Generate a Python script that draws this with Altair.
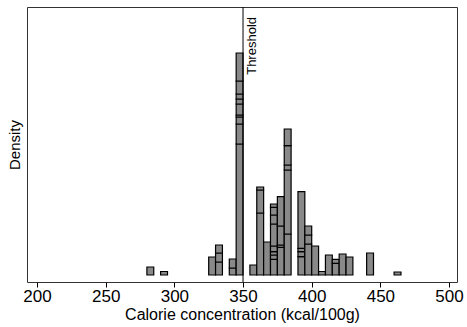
import altair as alt
import pandas as pd

# Histogram bins (kcal/100g), bin width 5; each bin is a stack of segments
BIN_WIDTH = 5
bin_starts = [280, 290, 325, 330, 340, 345, 355, 360, 365, 370, 375,
              380, 390, 395, 400, 405, 410, 415, 420, 425, 440, 460]
# relative segment heights (bottom to top)
segments = [
    [8],
    [3.5],
    [18],
    [13, 9, 8],
    [7, 9],
    [131, 20, 7, 2, 11, 5, 5, 13, 28],
    [10],
    [62, 23, 3],
    [33],
    [15.7, 4.3, 3.3, 5.7, 22, 9, 7.7, 3.3],
    [27.7, 2.3, 19, 29.3],
    [41, 64, 5, 19.3, 16.7],
    [18.3, 5, 3.4, 56.6],
    [31, 9, 9],
    [29],
    [3.5],
    [20],
    [11.7, 4],
    [21],
    [18],
    [22],
    [3],
]
threshold = [350]
threshold_label = ["Threshold"]
x_ticks = [200, 250, 300, 350, 400, 450, 500]

total = sum(sum(s) for s in segments) * BIN_WIDTH
rows = []
for b, segs in zip(bin_starts, segments):
    cum = 0.0
    for i, s in enumerate(segs):
        rows.append({"lo": b, "hi": b + BIN_WIDTH,
                     "y0": cum / total, "y1": (cum + s) / total, "seg": i})
        cum += s
df = pd.DataFrame(rows)

FONT = "Liberation Sans"
xscale = alt.Scale(domain=[192.7, 505.8], nice=False, zero=False)
yscale = alt.Scale(domain=[-7 / total, 268 / total], nice=False, zero=False)

bars = alt.Chart(df).mark_rect(fill="#898989", stroke="black", strokeWidth=1.2).encode(
    x=alt.X("lo:Q", scale=xscale,
            axis=alt.Axis(values=x_ticks, title="Calorie concentration (kcal/100g)",
                          format="d", domain=False, grid=False, tickSize=5,
                          tickColor="black", labelColor="black", titleColor="black",
                          labelFontSize=17, titleFontSize=16, labelFont=FONT,
                          titleFont=FONT, titleFontWeight="normal",
                          labelPadding=1, titlePadding=2)),
    x2="hi:Q",
    y=alt.Y("y0:Q", scale=yscale,
            axis=alt.Axis(title="Density", labels=False, ticks=False, domain=False,
                          grid=False, titleFontSize=15, titleFont=FONT,
                          titleFontWeight="normal", titleColor="black",
                          titlePadding=5)),
    y2="y1:Q",
)

tdf = pd.DataFrame({"x": threshold, "label": threshold_label})
rule = alt.Chart(tdf).mark_rule(color="black", strokeWidth=1).encode(
    x=alt.X("x:Q", scale=xscale))
text = alt.Chart(tdf).mark_text(angle=270, align="right", baseline="top",
                                fontSize=13, font=FONT, color="black", dy=3).encode(
    x=alt.X("x:Q", scale=xscale), y=alt.value(10), text="label:N")

chart = alt.layer(bars, rule, text).properties(
    width=430, height=275,
    autosize=alt.AutoSizeParams(type="none"),
    padding={"left": 27, "top": 7, "right": 10, "bottom": 45},
).configure_view(stroke="#333333", strokeWidth=1)

chart.save("out.html", embed_options={"renderer": "svg", "actions": False})
